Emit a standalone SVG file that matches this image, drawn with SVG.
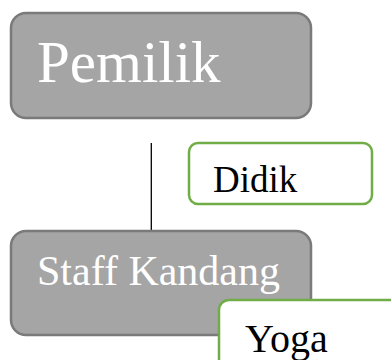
<svg xmlns="http://www.w3.org/2000/svg" width="391" height="360" viewBox="0 0 391 360">
<style>
.gbox{fill:#A5A5A5;stroke:#7A7A7A;stroke-width:2.5}
.wbox{fill:#FFFFFF;stroke:#70AD47;stroke-width:2.5}
.conn{stroke:#000000;stroke-width:1.3;fill:none}
text{font-family:'Liberation Serif','Times New Roman',Tinos,'DejaVu Serif',serif}
</style>
<rect width="391" height="360" fill="#FFFFFF"/>
<g id="connectors">
<line class="conn" x1="151.3" y1="143" x2="151.3" y2="230"/>
</g>
<g id="pemilik">
<rect class="gbox" x="11" y="13" width="300" height="105" rx="15" ry="15"/>
<text x="37" y="82" font-size="59" fill="#FFFFFF" font-family="'Liberation Serif', serif">Pemilik</text>
</g>
<g id="didik">
<rect class="wbox" x="189" y="143" width="183" height="61" rx="9" ry="9"/>
<text x="213" y="192" font-size="37" fill="#000000" font-family="'Liberation Serif', serif">Didik</text>
</g>
<g id="staff-kandang">
<rect class="gbox" x="11" y="231" width="300" height="104" rx="15" ry="15"/>
<text x="37" y="285" font-size="42" fill="#FFFFFF" font-family="'Liberation Serif', serif">Staff Kandang</text>
</g>
<g id="yoga">
<rect class="wbox" x="219" y="300" width="190" height="80" rx="10" ry="10"/>
<text x="245" y="352" font-size="40" fill="#000000" font-family="'Liberation Serif', serif">Yoga</text>
</g>
</svg>
